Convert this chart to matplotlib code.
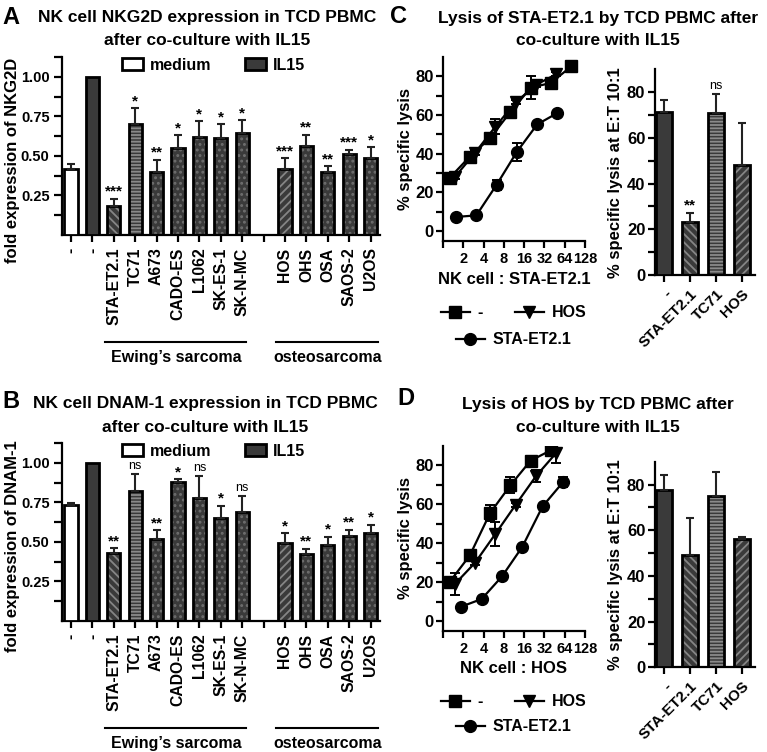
import numpy as np
import matplotlib.pyplot as plt
from matplotlib.lines import Line2D
from matplotlib.patches import Patch
from matplotlib.ticker import FixedLocator, NullLocator

plt.rcParams['font.family'] = ['Liberation Sans', 'DejaVu Sans']
plt.rcParams['font.weight'] = 'bold'
plt.rcParams['axes.labelweight'] = 'bold'
plt.rcParams['hatch.linewidth'] = 1.3
plt.rcParams['axes.linewidth'] = 1.6

# ---------------- data ----------------
cell_lines = ['-', '-', 'STA-ET2.1', 'TC71', 'A673', 'CADO-ES', 'L1062', 'SK-ES-1',
              'SK-N-MC', '', 'HOS', 'OHS', 'OSA', 'SAOS-2', 'U2OS']
nan = np.nan

nkg2d_mean = [0.42, 1.00, 0.185, 0.70, 0.40, 0.55, 0.62, 0.61, 0.645, nan,
              0.42, 0.565, 0.40, 0.51, 0.485]
nkg2d_err = [0.03, 0.0, 0.045, 0.10, 0.075, 0.08, 0.10, 0.09, 0.08, nan,
             0.065, 0.07, 0.035, 0.03, 0.07]
nkg2d_sig = ['', '', '***', '*', '**', '*', '*', '*', '*', '',
             '***', '**', '**', '***', '*']

dnam1_mean = [0.735, 1.00, 0.43, 0.82, 0.52, 0.877, 0.78, 0.648, 0.686, nan,
              0.496, 0.424, 0.479, 0.538, 0.557]
dnam1_err = [0.012, 0.0, 0.03, 0.11, 0.055, 0.02, 0.135, 0.08, 0.105, nan,
             0.06, 0.034, 0.055, 0.038, 0.05]
dnam1_sig = ['', '', '**', 'ns', '**', '*', 'ns', '*', 'ns', '',
             '*', '**', '*', '**', '*']

# effector : target ratios
et_ticks = [1, 2, 4, 8, 16, 32, 64, 128]
sq_x_c = [1.25, 2.5, 5, 10, 20, 40, 80]
sq_x_d = [1.25, 2.5, 5, 10, 20, 40]
tri_x = [1.5, 3, 6, 12, 24, 48]
circ_x_c = [1.5625, 3.125, 6.25, 12.5, 25, 50]
circ_x_d = [1.875, 3.75, 7.5, 15, 30, 60]

# lysis of STA-ET2.1
sta_none_y = [27.5, 38.5, 48, 61.5, 74, 76.5, 85]
sta_none_err = [1, 1, 2, 1, 6, 1, 0.5]
sta_hos_y = [28, 40.5, 54, 66.5, 75.5, 81]
sta_hos_err = [1, 1, 4, 1, 1, 1]
sta_sta_y = [7.4, 8.2, 24, 41, 55.1, 61]
sta_sta_err = [0.5, 0.5, 2.5, 4.7, 1, 1]

# lysis of HOS
hos_none_y = [20, 33.7, 55.5, 69.8, 82.5, 87.8]
hos_none_err = [1, 1, 4, 4, 1, 2]
hos_hos_y = [19, 30, 44.8, 59.8, 74.5, 86.5]
hos_hos_err = [5.5, 1, 6, 1, 3, 5]
hos_sta_y = [7.4, 11.3, 22.9, 38.1, 58.9, 71.3]
hos_sta_err = [0.5, 0.5, 0.5, 0.5, 0.5, 2.5]

# specific lysis at E:T 10:1
lysis_groups = ['-', 'STA-ET2.1', 'TC71', 'HOS']
sta_bar_mean = [71.5, 23.2, 70.8, 48]
sta_bar_err = [5, 4, 8.2, 18.4]
sta_bar_sig = ['', '**', 'ns', '']
hos_bar_mean = [77.4, 49.2, 74.9, 56.3]
hos_bar_err = [6.7, 16.2, 10.5, 0.6]
hos_bar_sig = ['', '', '', '']

# ---------------- styling ----------------
W, H = 767, 752
DARK = '#3a3a3a'
FILLS = {
    'medium': ('white', None, None),
    'solid': (DARK, None, None),
    'back': (DARK, '\\\\\\\\', '#858585'),
    'fwd': (DARK, '////', '#858585'),
    'horiz': (DARK, '-----', '#8a8a8a'),
    'dots': (DARK, '...', '#6e6e6e'),
}
expr_kinds = ['medium', 'solid', 'back', 'horiz', 'dots', 'dots', 'dots', 'dots',
              'dots', None, 'fwd', 'dots', 'dots', 'dots', 'dots']
lysis_kinds = ['solid', 'back', 'horiz', 'fwd']


def px(x, y):
    return x / W, 1 - y / H


def add_axes_px(fig, left, top, right, bottom):
    return fig.add_axes([left / W, 1 - bottom / H, (right - left) / W, (bottom - top) / H])


def clean(ax):
    ax.spines['top'].set_visible(False)
    ax.spines['right'].set_visible(False)
    ax.tick_params(which='both', width=1.6, length=5)


def draw_bars(ax, xs, means, errs, kinds, width, capsize):
    for x, m, e, k in zip(xs, means, errs, kinds):
        if k is None:
            continue
        face, hatch, hcol = FILLS[k]
        if hatch:
            ax.bar(x, m, width, color=face, edgecolor=hcol, hatch=hatch, linewidth=0, zorder=2)
            ax.bar(x, m, width, fill=False, edgecolor='black', linewidth=2, zorder=3)
        else:
            ax.bar(x, m, width, color=face, edgecolor='black', linewidth=2, zorder=3)
        if e > 0:
            ax.errorbar(x, m, yerr=[[0], [e]], fmt='none', ecolor='#222222',
                        elinewidth=1.5, capsize=capsize, capthick=1.5, zorder=4)


def add_sig(ax, xs, means, errs, sigs, size):
    for x, m, e, s in zip(xs, means, errs, sigs):
        if not s:
            continue
        if s == 'ns':
            ax.annotate(s, (x, m + e), xytext=(0, 1.5), textcoords='offset points',
                        ha='center', va='bottom', fontsize=size - 2, fontweight='normal')
        else:
            ax.annotate(s, (x, m + e), xytext=(0, 0), textcoords='offset points',
                        ha='center', va='bottom', fontsize=size, fontweight='bold')


def expression_panel(ax, means, errs, sigs, ylabel):
    x = np.arange(len(cell_lines))
    draw_bars(ax, x, means, errs, expr_kinds, 0.62, 3)
    add_sig(ax, x, means, errs, sigs, 11)
    clean(ax)
    ax.set_xlim(-0.42, 14.44)
    ax.set_ylim(0, 1.125)
    ax.set_yticks([0.25, 0.5, 0.75, 1.0])
    ax.set_yticklabels(['0.25', '0.50', '0.75', '1.00'], fontsize=10.5)
    ax.yaxis.set_minor_locator(FixedLocator([0.125, 0.375, 0.625, 0.875, 1.125]))
    ax.tick_params(axis='y', which='both', length=6, pad=3)
    ax.set_xticks(x)
    ax.set_xticklabels(cell_lines, rotation=90, fontsize=11.3)
    ax.tick_params(axis='x', pad=4)
    ax.set_ylabel(ylabel, fontsize=12)
    # right edge of the rotated label sits just left of the tick labels
    ax.yaxis.set_label_coords(-0.133, 0.42)

    trans = ax.get_xaxis_transform()
    for x0, x1, name in [(1.6, 8.2, 'Ewing\u2019s sarcoma'), (9.6, 14.35, 'osteosarcoma')]:
        ax.plot([x0, x1], [-0.602, -0.602], transform=trans, clip_on=False,
                color='black', lw=1.5)
        ax.text((x0 + x1) / 2, -0.69, name, transform=trans, ha='center', va='center',
                fontsize=11.5)

    handles = [Patch(facecolor='white', edgecolor='black', linewidth=2),
               Patch(facecolor=DARK, edgecolor='black', linewidth=2)]
    ax.legend(handles, ['medium', 'IL15'], loc='center', bbox_to_anchor=(0.478, 0.955),
              ncol=2, frameon=False, fontsize=11.5, handlelength=1.3, handleheight=0.75,
              handletextpad=0.45, columnspacing=2.1, borderpad=0)


def lysis_curve(ax, series, xlabel):
    for xs, ys, es, marker, ms in series:
        ax.errorbar(xs, ys, yerr=es, fmt='-', marker=marker, ms=ms, color='black',
                    lw=1.6, capsize=3.5, elinewidth=1.4, capthick=1.4)
    clean(ax)
    ax.set_xscale('log', base=2)
    ax.set_xlim(1, 128)
    ax.set_xticks(et_ticks)
    ax.set_xticklabels([''] + [str(t) for t in et_ticks[1:]], fontsize=10.5)
    ax.xaxis.set_minor_locator(NullLocator())
    ax.set_ylim(-5, 90)
    ax.set_yticks([0, 20, 40, 60, 80])
    ax.set_yticklabels(['0', '20', '40', '60', '80'], fontsize=12)
    ax.yaxis.set_minor_locator(FixedLocator([10, 30, 50, 70]))
    ax.tick_params(axis='y', which='both', pad=1.5)
    ax.tick_params(axis='x', pad=3)
    ax.set_xlabel(xlabel, fontsize=12, labelpad=4)
    ax.set_ylabel('% specific lysis', fontsize=12, labelpad=2)


def lysis_bars(ax, means, errs, sigs):
    x = np.arange(len(lysis_groups))
    draw_bars(ax, x, means, errs, lysis_kinds, 0.62, 3)
    add_sig(ax, x, means, errs, sigs, 11)
    clean(ax)
    ax.set_xlim(-0.35, 3.5)
    ax.set_ylim(0, 90)
    ax.set_yticks([0, 20, 40, 60, 80])
    ax.set_yticklabels(['0', '20', '40', '60', '80'], fontsize=12)
    ax.yaxis.set_minor_locator(FixedLocator([10, 30, 50, 70]))
    ax.tick_params(axis='y', which='both', pad=2)
    ax.set_xticks(x)
    ax.set_xticklabels(lysis_groups, rotation=45, ha='right', rotation_mode='anchor',
                       fontsize=11)
    ax.set_ylabel('% specific lysis at E:T 10:1', fontsize=12, labelpad=3)


def curve_legend(fig, row1_y, row2_y):
    kw = dict(frameon=False, borderpad=0, fontsize=11.5, handlelength=1.8,
              handletextpad=0.5, columnspacing=2.0, loc='center left')
    sq = Line2D([], [], color='black', marker='s', ms=8, lw=1.6)
    tri = Line2D([], [], color='black', marker='v', ms=8.5, lw=1.6)
    circ = Line2D([], [], color='black', marker='o', ms=8.5, lw=1.6)
    fig.legend([sq, tri], ['-', 'HOS'], ncol=2, bbox_to_anchor=px(433, row1_y), **kw)
    fig.legend([circ], ['STA-ET2.1'], bbox_to_anchor=px(448, row2_y), **kw)


fig = plt.figure(figsize=(W / 100, H / 100), dpi=100)

ax_a = add_axes_px(fig, 62, 57, 380, 235)
expression_panel(ax_a, nkg2d_mean, nkg2d_err, nkg2d_sig, 'fold expression of NKG2D')
ax_b = add_axes_px(fig, 62, 443, 380, 621)
expression_panel(ax_b, dnam1_mean, dnam1_err, dnam1_sig, 'fold expression of DNAM-1')

ax_c = add_axes_px(fig, 443, 56.7, 585, 241)
lysis_curve(ax_c, [(circ_x_c, sta_sta_y, sta_sta_err, 'o', 8.5),
                   (tri_x, sta_hos_y, sta_hos_err, 'v', 8.5),
                   (sq_x_c, sta_none_y, sta_none_err, 's', 8)], 'NK cell : STA-ET2.1')
ax_c2 = add_axes_px(fig, 655, 69.3, 755, 275)
lysis_bars(ax_c2, sta_bar_mean, sta_bar_err, sta_bar_sig)

ax_d = add_axes_px(fig, 443, 446, 585, 630.7)
lysis_curve(ax_d, [(circ_x_d, hos_sta_y, hos_sta_err, 'o', 8.5),
                   (tri_x, hos_hos_y, hos_hos_err, 'v', 8.5),
                   (sq_x_d, hos_none_y, hos_none_err, 's', 8)], 'NK cell : HOS')
ax_d2 = add_axes_px(fig, 655, 461.7, 755, 667.3)
lysis_bars(ax_d2, hos_bar_mean, hos_bar_err, hos_bar_sig)

curve_legend(fig, 312.7, 340)
curve_legend(fig, 701.7, 726.7)

titles = [
    ('A', (2, 24), 207, (22, 45), 'NK cell NKG2D expression in TCD PBMC', 'after co-culture with IL15'),
    ('B', (2, 408), 205, (408, 431.7), 'NK cell DNAM-1 expression in TCD PBMC', 'after co-culture with IL15'),
    ('C', (390, 23), 598, (22.7, 45), 'Lysis of STA-ET2.1 by TCD PBMC after', 'co-culture with IL15'),
    ('D', (397, 405), 598, (409, 431.7), 'Lysis of HOS by TCD PBMC after', 'co-culture with IL15'),
]
for letter, lpos, cx, (y1, y2), line1, line2 in titles:
    fig.text(*px(*lpos), letter, fontsize=17, fontweight='bold', va='baseline', ha='left')
    fig.text(*px(cx, y1), line1, fontsize=12.5, fontweight='bold', va='baseline', ha='center')
    fig.text(*px(cx, y2), line2, fontsize=12.5, fontweight='bold', va='baseline', ha='center')

fig.savefig('out.png', dpi=100)
